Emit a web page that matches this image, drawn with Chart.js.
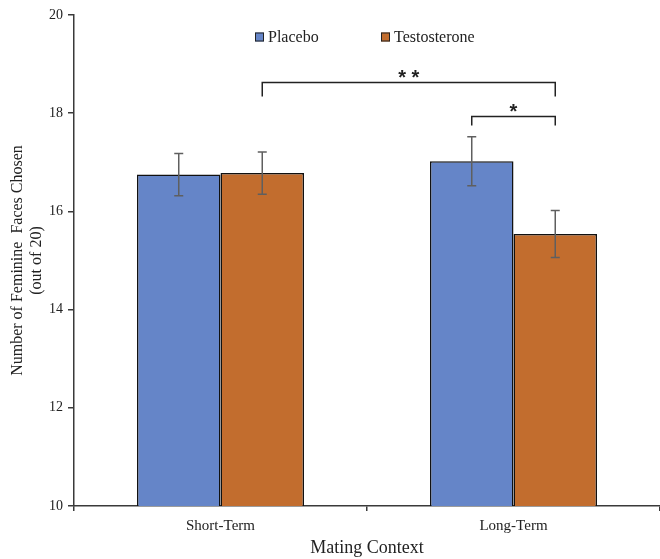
<!DOCTYPE html>
<html>
<head>
<meta charset="utf-8">
<script src="https://cdn.jsdelivr.net/npm/chart.js@4.4.1/dist/chart.umd.min.js"></script>
<style>
  body { margin: 0; background: #fff; }
  #wrap { width: 660px; height: 559px; position: relative; }
</style>
</head>
<body>
<div id="wrap"><canvas id="chart1"></canvas></div>
<script>
const categories = ['Short-Term', 'Long-Term'];
const seriesNames = ['Placebo', 'Testosterone'];
const placebo = [16.75, 17.02];
const testosterone = [16.78, 15.54];
const placeboErr = [0.43, 0.50];
const testosteroneErr = [0.43, 0.48];
const yTicks = [10, 12, 14, 16, 18, 20];

// significance brackets: [category, dataset] ends, bar height and leg end in data units
const bracketLabels = ['**', '*'];
const bracketFrom = [[0, 1], [1, 0]];
const bracketTo = [[1, 1], [1, 1]];
const bracketTop = [18.64, 17.95];
const bracketLeg = [18.34, 17.75];

const serif = '"Liberation Serif", "Times New Roman", serif';
const colors = ['#6585C8', '#C26D2E'];
const errs = [placeboErr, testosteroneErr];

const extras = {
    id: 'extras',
    afterDatasetsDraw(chart) {
        const ctx = chart.ctx;
        const y = chart.scales.y;
        ctx.save();

        // error bars
        ctx.strokeStyle = '#5f5f5f';
        ctx.lineWidth = 1.5;
        chart.data.datasets.forEach((ds, di) => {
            const meta = chart.getDatasetMeta(di);
            meta.data.forEach((bar, i) => {
                const v = ds.data[i];
                const e = errs[di][i];
                const top = y.getPixelForValue(v + e);
                const bot = y.getPixelForValue(v - e);
                ctx.beginPath();
                ctx.moveTo(bar.x, top); ctx.lineTo(bar.x, bot);
                ctx.moveTo(bar.x - 4.5, top); ctx.lineTo(bar.x + 4.5, top);
                ctx.moveTo(bar.x - 4.5, bot); ctx.lineTo(bar.x + 4.5, bot);
                ctx.stroke();
            });
        });

        // brackets
        ctx.strokeStyle = '#222';
        ctx.lineWidth = 1.5;
        ctx.fillStyle = '#222';
        ctx.font = 'bold 20px "Liberation Sans", Arial, sans-serif';
        ctx.textAlign = 'center';
        ctx.textBaseline = 'alphabetic';
        bracketLabels.forEach((lab, k) => {
            const x1 = chart.getDatasetMeta(bracketFrom[k][1]).data[bracketFrom[k][0]].x;
            const x2 = chart.getDatasetMeta(bracketTo[k][1]).data[bracketTo[k][0]].x;
            const yt = Math.round(y.getPixelForValue(bracketTop[k])) + 0.5;
            const yl = y.getPixelForValue(bracketLeg[k]);
            ctx.beginPath();
            ctx.moveTo(x1, yl); ctx.lineTo(x1, yt); ctx.lineTo(x2, yt); ctx.lineTo(x2, yl);
            ctx.stroke();
            ctx.fillText(lab.split('').join(' '), (x1 + x2) / 2, yt + 1);
        });

        // legend
        ctx.font = '16px ' + serif;
        ctx.textAlign = 'left';
        ctx.textBaseline = 'middle';
        const ly = 37;
        const lx = [255, 381];
        seriesNames.forEach((name, i) => {
            ctx.fillStyle = colors[i];
            ctx.fillRect(lx[i], ly - 4.5, 9, 9);
            ctx.strokeStyle = '#222';
            ctx.lineWidth = 1;
            ctx.strokeRect(lx[i] + 0.5, ly - 4, 8, 8);
            ctx.fillStyle = '#222';
            ctx.fillText(name, lx[i] + 13, ly + 1);
        });
        ctx.restore();
    }
};

new Chart(document.getElementById('chart1'), {
    type: 'bar',
    data: {
        labels: categories,
        datasets: [{
            label: seriesNames[0],
            data: placebo,
            backgroundColor: colors[0],
            borderColor: '#111',
            borderWidth: 1.5
        }, {
            label: seriesNames[1],
            data: testosterone,
            backgroundColor: colors[1],
            borderColor: '#111',
            borderWidth: 1.5
        }]
    },
    options: {
        responsive: true,
        maintainAspectRatio: false,
        animation: false,
        layout: { padding: { top: 15, right: 0, left: 0, bottom: 0 } },
        categoryPercentage: 0.57,
        barPercentage: 1,
        plugins: { legend: { display: false }, tooltip: { enabled: false } },
        scales: {
            x: {
                offset: true,
                grid: { display: true, drawOnChartArea: false, offset: true, tickLength: 5, color: '#3a3a3a', lineWidth: 1.5 },
                border: { color: '#3a3a3a', width: 1.5 },
                ticks: { color: '#222', font: { family: serif, size: 15 }, padding: 6 },
                title: { display: true, text: 'Mating Context', color: '#222', font: { family: serif, size: 18 }, padding: { top: 0, bottom: 0 } },
                afterFit: s => { s.height = 53; }
            },
            y: {
                min: 10,
                max: 20,
                afterBuildTicks: s => { s.ticks = yTicks.map(v => ({ value: v })); },
                grid: { display: true, drawOnChartArea: false, tickLength: 6, color: '#3a3a3a', lineWidth: 1.5 },
                border: { color: '#3a3a3a', width: 1.5 },
                ticks: { color: '#222', font: { family: serif, size: 14 }, padding: 5 },
                title: { display: true, text: ['Number of Feminine  Faces Chosen', '(out of 20)'], color: '#222', font: { family: serif, size: 16, lineHeight: 1.2 }, padding: { top: 8, bottom: 4 } },
                afterFit: s => { s.width = 74; }
            }
        }
    },
    plugins: [extras]
});
</script>
</body>
</html>
